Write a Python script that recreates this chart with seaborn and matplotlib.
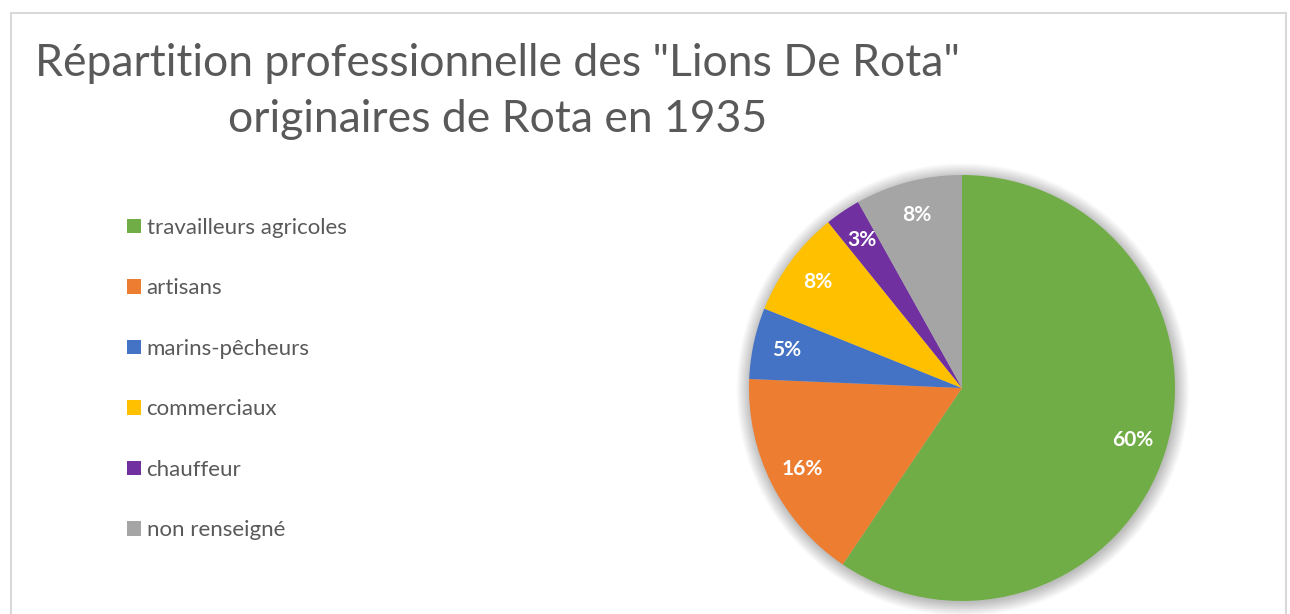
from matplotlib import pyplot as plt
from matplotlib.patches import Rectangle, Circle
import seaborn as sns

# donnees
categories = ['travailleurs agricoles', 'artisans', 'marins-pêcheurs',
              'commerciaux', 'chauffeur', 'non renseigné']
effectifs = [22, 6, 2, 3, 1, 3]
etiquettes = ['60%', '16%', '5%', '8%', '3%', '8%']
couleurs = ['#70AD47', '#ED7D31', '#4472C4', '#FFC000', '#7030A0', '#A5A5A5']

titre_1 = 'Répartition professionnelle des "Lions De Rota"'
titre_2 = 'originaires de Rota en 1935'

sns.set_theme(style="white")
plt.rcParams['font.family'] = ['Lato', 'DejaVu Sans']

W, H = 1290, 614
fig = plt.figure(figsize=(W / 100, H / 100), dpi=100)
fig.patch.set_facecolor('white')

# cadre gris clair autour du graphique
fig.patches.append(Rectangle((10.5 / W, -0.02), (1286 - 10.5) / W, (H - 12.5) / H + 0.02,
                             transform=fig.transFigure, fill=False,
                             edgecolor='#D9D9D9', lw=1.5))

# axe du camembert : centre (962, 388), rayon 213 px
cx, cy, r = 962, 388, 213
lim = 1.12
size = 2 * r * lim
ax = fig.add_axes([(cx - r * lim) / W, (H - cy - r * lim) / H, size / W, size / H])

# ombre diffuse
for i in range(22):
    ax.add_patch(Circle((0.004, -0.008), 1 + 0.003 * i, color='black',
                        alpha=0.011, lw=0, zorder=0))

wedges, texts = ax.pie(effectifs, colors=couleurs, startangle=90, counterclock=False,
                       labels=etiquettes, labeldistance=0.84,
                       wedgeprops=dict(linewidth=0, zorder=2),
                       textprops=dict(color='white', fontsize=15, fontweight='bold',
                                      ha='center', va='center'))
for t in texts:
    t.set_zorder(3)
ax.set_xlim(-lim, lim)
ax.set_ylim(-lim, lim)
ax.set_aspect('equal')
ax.axis('off')

# legende a gauche
fig.legend(wedges, categories, loc='upper left',
           bbox_to_anchor=(127 / W, 1 - 218 / H), frameon=False,
           fontsize=16, labelcolor='#595959',
           handlelength=0.63, handleheight=0.63, handletextpad=0.25,
           labelspacing=1.82, borderpad=0, borderaxespad=0)

# titre sur deux lignes
fig.text(497 / W, 1 - 76 / H, titre_1, ha='center', va='baseline',
         fontsize=32, color='#595959')
fig.text(498 / W, 1 - 132 / H, titre_2, ha='center', va='baseline',
         fontsize=32, color='#595959')

fig.savefig('out.png', dpi=100)
